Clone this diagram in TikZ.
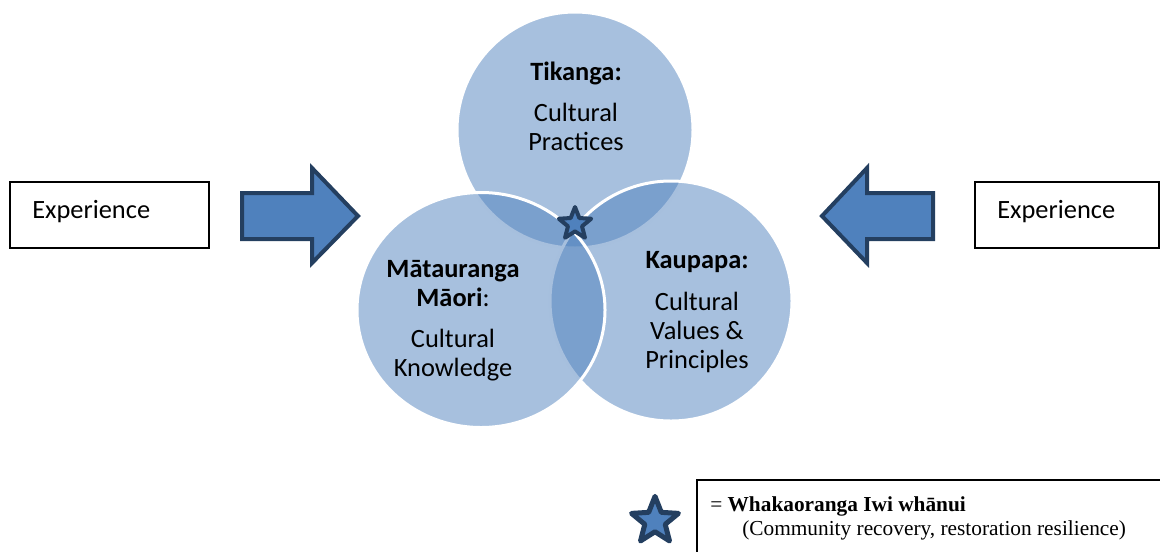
\documentclass[tikz,border=0pt]{standalone}
\usepackage{fontspec}
\setmainfont{Carlito}
\newfontfamily\legendfont{Liberation Serif}
\usetikzlibrary{shapes.geometric}
\definecolor{vennblue}{HTML}{4F81BD}
\definecolor{navy}{HTML}{243F60}

\begin{document}
\begin{tikzpicture}[x=0.75pt,y=-0.75pt,
  vennset/.style={ellipse, draw=white, line width=2.25pt, fill=vennblue,
    fill opacity=0.5, draw opacity=1, inner sep=0pt, outer sep=0pt},
  blockarrow/.style={draw=navy, fill=vennblue, line width=3pt, line join=miter},
  starmark/.style={star, star points=5, star point ratio=2.3, draw=navy,
    fill=vennblue, line join=round, inner sep=0pt},
  framebox/.style={draw=black, line width=1.1pt, inner sep=0pt},
  vtext/.style={font=\fontsize{19.8}{22}\selectfont, inner sep=0pt, anchor=base},
  vtitle/.style={vtext, font=\fontsize{19.8}{22}\selectfont\bfseries},
  legendtext/.style={font=\legendfont\fontsize{16}{18.5}\selectfont, inner sep=0pt, anchor=base west}]

\useasboundingbox (0,0) rectangle (1160,551);
\clip (0,0) rectangle (1160,551);

% the three overlapping sets, translucent so the overlaps darken
\node[vennset, minimum width=177pt, minimum height=177pt] (tikanga) at (575,130) {};
\node[vennset, minimum width=181.5pt, minimum height=180pt] (kaupapa) at (671,301) {};
\node[vennset, minimum width=186pt, minimum height=176.25pt] (matauranga) at (481,310) {};

% set labels
\node[vtitle] (tikangaT) at (576,80) {Tikanga:};
\node[vtext] (tikangaA) at (576,121) {Cultural};
\node[vtext] (tikangaB) at (576,150) {Practices};

\node[vtitle] (matT) at (453,277) {Mātauranga};
\node[vtext] (matU) at (453,306) {\textbf{Māori}:};
\node[vtext] (matA) at (453,347) {Cultural};
\node[vtext] (matB) at (453,376) {Knowledge};

\node[vtitle] (kauT) at (697,268) {Kaupapa:};
\node[vtext] (kauA) at (697,310) {Cultural};
\node[vtext] (kauB) at (697,339) {Values \&};
\node[vtext] (kauC) at (697,368) {Principles};

% star at the common centre
\node[starmark, minimum size=25.5pt, line width=3pt] (core) at (575,224) {};

% experience boxes
\node[framebox, minimum width=149.25pt, minimum height=49.5pt] (expL) at (109.5,215) {};
\node[vtext, anchor=base west] (expLtext) at (32,218) {Experience};
\node[framebox, minimum width=138pt, minimum height=49.5pt] (expR) at (1067,215) {};
\node[vtext, anchor=base west] (expRtext) at (997,218) {Experience};

% block arrows pointing inwards
\draw[blockarrow] (242,193) -- (312,193) -- (312,168) -- (358,216)
  -- (312,263) -- (312,239) -- (242,239) -- cycle;
\draw[blockarrow] (933,193) -- (867,193) -- (867,168) -- (822,216)
  -- (867,263) -- (867,239) -- (933,239) -- cycle;

% legend
\node[starmark, minimum size=37pt, line width=3.75pt] (keystar) at (655,521) {};
\draw[line width=1.1pt] (697,580) -- (697,480) -- (1180,480);
\node[legendtext] (keyA) at (710,511) {= \textbf{Whakaoranga Iwi whānui}};
\node[legendtext] (keyB) at (742,535) {(Community recovery, restoration resilience)};
\end{tikzpicture}
\end{document}
